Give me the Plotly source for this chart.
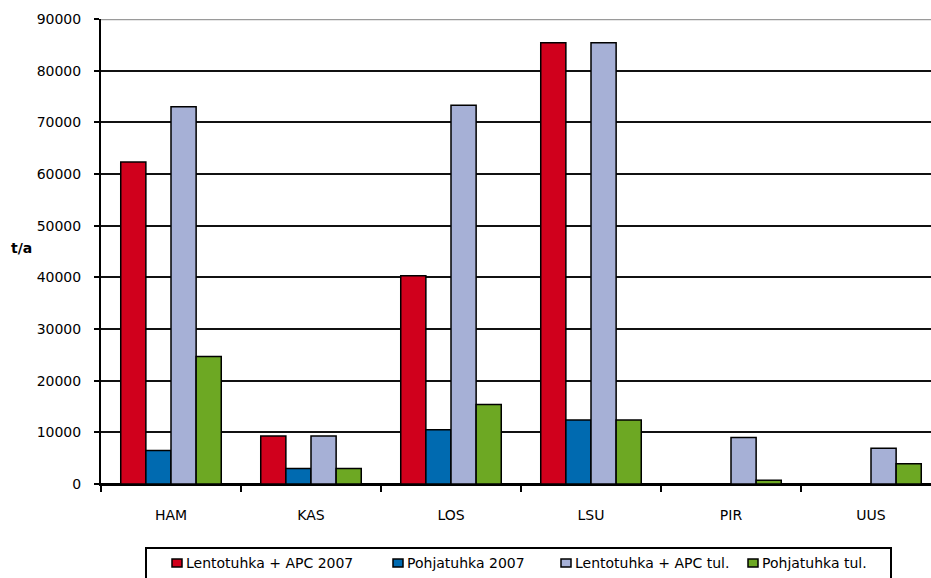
import plotly.graph_objects as go

# Plant sites and annual ash quantities (t/a)
categories = ["HAM", "KAS", "LOS", "LSU", "PIR", "UUS"]
series_names = [
    "Lentotuhka + APC 2007",
    "Pohjatuhka 2007",
    "Lentotuhka + APC tul.",
    "Pohjatuhka tul.",
]
lentotuhka_2007 = [62300, 9300, 40300, 85400, 0, 0]
pohjatuhka_2007 = [6500, 3000, 10500, 12400, 0, 0]
lentotuhka_tul = [73000, 9300, 73300, 85400, 9000, 6900]
pohjatuhka_tul = [24700, 3000, 15400, 12400, 750, 3900]
y_ticks = [0, 10000, 20000, 30000, 40000, 50000, 60000, 70000, 80000, 90000]

series_values = [lentotuhka_2007, pohjatuhka_2007, lentotuhka_tul, pohjatuhka_tul]
colors = ["#D0001C", "#006AB0", "#A6B0D6", "#6DA823"]

FONT = "DejaVu Sans"
W_PX, H_PX = 931, 578
L, R, T, B = 101, 0, 19, 94
PW = W_PX - L - R
PH = H_PX - T - B


def px_x(px):
    return (px - L) / PW


def px_y(py):
    return (H_PX - B - py) / PH


fig = go.Figure()
for name, vals, col in zip(series_names, series_values, colors):
    fig.add_trace(go.Bar(
        x=categories, y=vals, name=name, showlegend=False,
        marker=dict(color=col, line=dict(color="black", width=1.5)),
    ))

# category width is 140 px; the last category is clipped at the right edge
x_end = -0.5 + PW / 140.0

fig.update_layout(
    width=W_PX, height=H_PX, autosize=False,
    margin=dict(l=L, r=R, t=T, b=B, pad=0),
    paper_bgcolor="white", plot_bgcolor="white",
    barmode="group", bargap=0.282, bargroupgap=0,
    font=dict(family=FONT, size=14, color="black"),
    xaxis=dict(
        type="category", categoryorder="array", categoryarray=categories,
        range=[-0.5, x_end], showgrid=False,
        showline=True, linecolor="black", linewidth=2,
        ticks="outside", tickson="boundaries", ticklen=6, tickwidth=2,
        tickcolor="black", ticklabelstandoff=17,
        tickfont=dict(family=FONT, size=14, color="black"),
    ),
    yaxis=dict(
        range=[0, 90000], tickvals=y_ticks, tickformat="d",
        showgrid=True, gridcolor="#111111", gridwidth=2,
        zeroline=True, zerolinecolor="black", zerolinewidth=2,
        showline=True, linecolor="black", linewidth=2,
        ticks="outside", ticklen=5, tickwidth=2, tickcolor="black",
        ticklabelstandoff=10,
        tickfont=dict(family=FONT, size=14, color="black"),
    ),
)

shapes = [
    # grey top edge of the plot area
    dict(type="line", xref="paper", yref="y", x0=0, x1=1, y0=90000, y1=90000,
         line=dict(color="#9a9a9a", width=2.5), layer="above"),
    # legend frame
    dict(type="rect", xref="paper", yref="paper",
         x0=px_x(146), x1=px_x(891), y0=px_y(548), y1=px_y(584),
         line=dict(color="black", width=2), fillcolor="white", layer="above"),
]

annotations = [
    dict(text="<b>t/a</b>", xref="paper", yref="paper", x=px_x(21), y=px_y(248),
         xanchor="center", yanchor="middle", showarrow=False,
         font=dict(family=FONT, size=14, color="black")),
]

legend_x = [172, 393, 561, 748]
legend_y = 563
for name, col, lx in zip(series_names, colors, legend_x):
    shapes.append(dict(
        type="rect", xref="paper", yref="paper",
        x0=px_x(lx), x1=px_x(lx + 10), y0=px_y(legend_y + 4), y1=px_y(legend_y - 4),
        fillcolor=col, line=dict(color="black", width=1.5), layer="above",
    ))
    annotations.append(dict(
        text=name, xref="paper", yref="paper", x=px_x(lx + 12), y=px_y(legend_y),
        xanchor="left", yanchor="middle", showarrow=False,
        font=dict(family=FONT, size=14, color="black"),
    ))

fig.update_layout(shapes=shapes, annotations=annotations)

fig.write_html("out.html")
